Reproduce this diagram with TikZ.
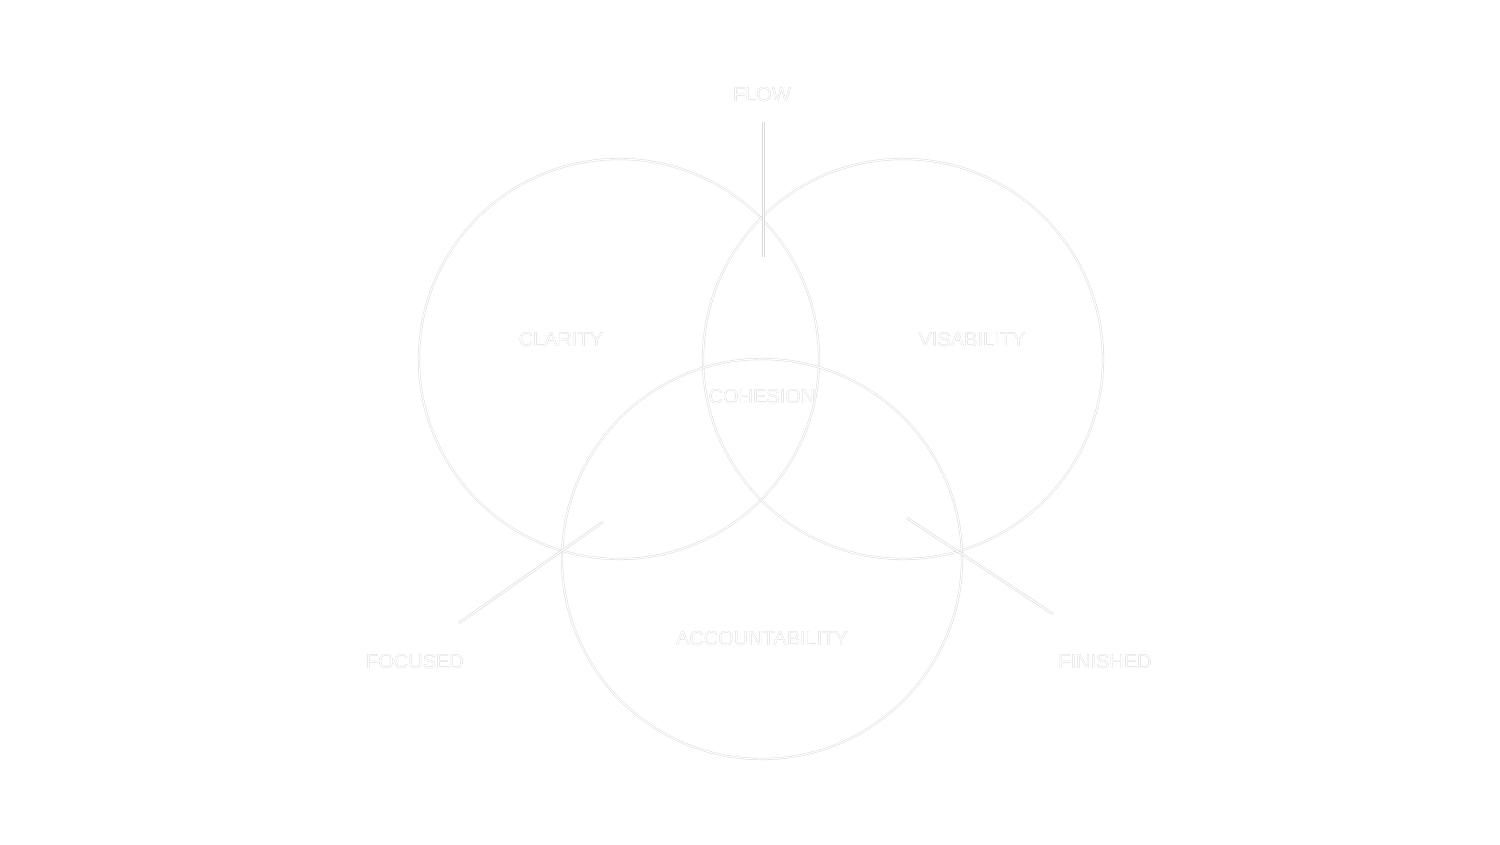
\documentclass[tikz,border=0pt]{standalone}
\usepackage{fontspec}
\setmainfont{Liberation Sans}
\usepackage[outline]{contour}
\contourlength{0.5pt}
\tikzset{
  ring/.style={draw=black!14, line width=0.5pt, double=white, double distance=1.1pt},
  tick/.style={draw=black!15, line width=0.6pt, double=white, double distance=1.2pt},
  lbl/.style={font=\fontsize{20}{24}\selectfont, text=white, inner sep=0pt, yshift=-1.5pt}
}
\newcommand{\otxt}[1]{\contour{black!36}{#1}}
\begin{document}
\begin{tikzpicture}[x=1pt,y=-1pt]
\useasboundingbox[fill=white] (0,0) rectangle (1500,844);
\draw[ring] (619,359) circle[radius=200];
\draw[ring] (903,359) circle[radius=200];
\draw[ring] (762,559) circle[radius=200];
\coordinate (fa) at (763.3,122);
\coordinate (fb) at (763.3,257);
\coordinate (la) at (603,522);
\coordinate (lb) at (459,623);
\coordinate (ra) at (907,518);
\coordinate (rb) at (1053,614);
\draw[tick] (fa) -- (fb);
\draw[tick] (la) -- (lb);
\draw[tick] (ra) -- (rb);
\node[lbl] (flow) at (762,93) {\otxt{FLOW}};
\node[lbl] (clarity) at (561,338) {\otxt{CLARITY}};
\node[lbl] (vis) at (972,338) {\otxt{VISABILITY}};
\node[lbl] (coh) at (762,395) {\otxt{COHESION}};
\node[lbl] (acc) at (762,637) {\otxt{ACCOUNTABILITY}};
\node[lbl] (foc) at (415,660) {\otxt{FOCUSED}};
\node[lbl] (fin) at (1105,660) {\otxt{FINISHED}};
\end{tikzpicture}
\end{document}
